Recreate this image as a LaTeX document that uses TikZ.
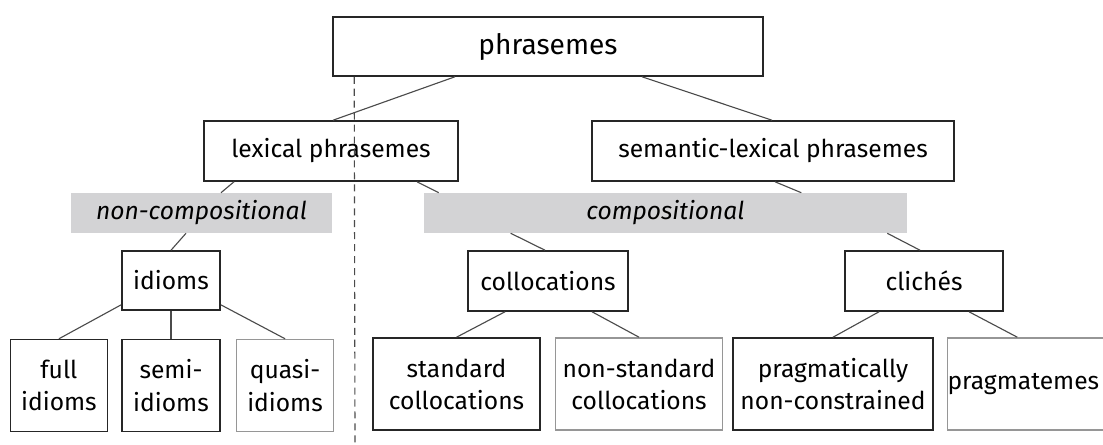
\documentclass[tikz,border=0pt]{standalone}
\usepackage{fontspec}
\setmainfont{Fira Sans}
\usetikzlibrary{positioning, calc}

\newlength{\pix}
\setlength{\pix}{0.025cm}

\definecolor{barGray}{RGB}{211,211,213}
\definecolor{lineGray}{RGB}{75,75,75}
\definecolor{frameGray}{RGB}{150,150,150}

\tikzstyle{Box} = [
draw=black!85, line width=1.1pt,
inner sep=0pt, align=center,
font=\fontsize{17.5}{22.8}\selectfont]
\tikzstyle{PaleBox} = [Box, draw=frameGray]
\tikzstyle{Bar} = [
fill=barGray, inner sep=0pt,
font=\fontsize{17.5}{22.8}\selectfont\itshape]
\tikzstyle{Link} = [draw=lineGray, line width=0.8pt]

\begin{document}
\begin{tikzpicture}[x=0.025cm, y=-0.025cm]
    \useasboundingbox (0,0) rectangle (1103,445);

    \node [Box, minimum width=430\pix, minimum height=59\pix,
           font=\fontsize{20}{24}\selectfont] (phr) at (548,46.5) {phrasemes};
    \node [Box, minimum width=254\pix, minimum height=60\pix] (lex) at (331,151) {lexical phrasemes};
    \node [Box, minimum width=362\pix, minimum height=60\pix] (sem) at (773,151) {semantic-lexical phrasemes};

    \node [Bar, minimum width=261\pix, minimum height=40\pix] (noncomp) at (201.5,213) {non-compositional};
    \node [Bar, minimum width=483\pix, minimum height=40\pix] (comp) at (665.5,213) {compositional};

    \node [Box, minimum width=98\pix, minimum height=59\pix] (idi) at (171,280.5) {idioms};
    \node [Box, minimum width=160\pix, minimum height=60\pix] (coll) at (548,281) {collocations};
    \node [Box, minimum width=158\pix, minimum height=60\pix] (cli) at (924,281) {clichés};

    \node [Box, minimum width=98\pix, minimum height=92\pix, below=28\pix of idi] (semi) {semi-\\idioms};
    \node [Box, minimum width=97\pix, minimum height=92\pix, left=13\pix of semi] (full) {full\\idioms};
    \node [PaleBox, minimum width=97\pix, minimum height=92\pix, right=15\pix of semi] (quasi) {quasi-\\idioms};

    \node [Box, minimum width=167\pix, minimum height=92\pix] (std) at (456.5,384) {standard\\collocations};
    \node [PaleBox, minimum width=167\pix, minimum height=92\pix, right=14\pix of std] (nonstd) {non-standard\\collocations};
    \node [Box, minimum width=200\pix, minimum height=92\pix] (pragnc) at (833,384) {pragmatically\\non-constrained};
    % text pushed left, the frame runs past the right edge
    \node [PaleBox, minimum width=168\pix, minimum height=92\pix, right=13\pix of pragnc] (pragm) {pragmatemes\hspace*{20\pix}};

    % dividing line
    \coordinate (cut) at (355,445);
    \draw [lineGray, line width=0.8pt, dash pattern=on 5pt off 3.5pt]
        ($(phr.south west)+(22,0)$) -- (cut);

    \draw[Link] ($(phr.south)+(-93,0)$) -- ($(lex.north)+(2,0)$);
    \draw[Link] ($(phr.south)+(94,0)$) -- ($(sem.north)+(-1,0)$);
    \draw[Link] ($(lex.south)+(-97,0)$) -- ($(noncomp.north)+(19.5,0)$);
    \draw[Link] ($(lex.south)+(86,0)$) -- ($(comp.north west)+(15,0)$);
    \draw[Link] ($(sem.south)+(2,0)$) -- ($(comp.north east)+(-106,0)$);
    \draw[Link] ($(noncomp.south)+(-15.5,0)$) -- (idi.north);
    \draw[Link] ($(comp.south west)+(87,0)$) -- ($(coll.north)+(-3,0)$);
    \draw[Link] ($(comp.south east)+(-20,0)$) -- ($(cli.north)+(-4,0)$);
    \draw[Link] ($(idi.south west)+(0,-6)$) -- (full.north);
    \draw[Link] (idi.south) -- (semi.north);
    \draw[Link] ($(idi.south east)+(0,-6)$) -- (quasi.north);
    \draw[Link] ($(coll.south)+(-43,0)$) -- (std.north);
    \draw[Link] ($(coll.south)+(44,0)$) -- (nonstd.north);
    \draw[Link] ($(cli.south)+(-45,0)$) -- (pragnc.north);
    \draw[Link] ($(cli.south)+(45,0)$) -- ($(pragm.north)+(-16,0)$);
\end{tikzpicture}
\end{document}
